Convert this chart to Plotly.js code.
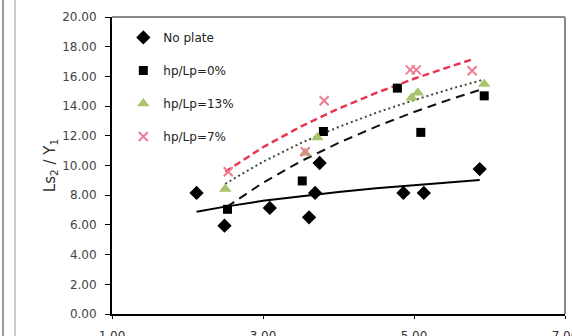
<!DOCTYPE html>
<html>
<head>
<meta charset="utf-8">
<script src="https://cdn.plot.ly/plotly-3.0.1.min.js"></script>
<style>html,body{margin:0;padding:0;background:#fff;}#chart{width:572px;height:336px;}</style>
</head>
<body>
<div id="chart"></div>
<script>
// Observed points
const noPlateX = [2.12, 2.49, 3.09, 3.61, 3.69, 3.75, 4.86, 5.13, 5.87];
const noPlateY = [8.15, 5.95, 7.14, 6.51, 8.15, 10.17, 8.15, 8.15, 9.76];

const p0X = [2.53, 3.52, 3.80, 4.78, 5.09, 5.93];
const p0Y = [7.05, 8.96, 12.29, 15.21, 12.23, 14.69];

const p13X = [2.50, 3.56, 3.72, 4.97, 5.05, 5.93];
const p13Y = [8.42, 10.85, 11.89, 14.56, 14.90, 15.48];

const p7X = [2.54, 3.56, 3.81, 4.95, 5.03, 5.77];
const p7Y = [9.58, 10.93, 14.36, 16.44, 16.44, 16.38];

// Trend lines
const trendNoPlateX = [2.12, 2.5, 3.0, 3.5, 4.0, 4.5, 5.0, 5.5, 5.87];
const trendNoPlateY = [6.89, 7.23, 7.62, 7.94, 8.22, 8.47, 8.69, 8.89, 9.03];

const trend0X = [2.52, 3.0, 3.5, 4.0, 4.5, 5.0, 5.5, 5.92];
const trend0Y = [7.21, 8.84, 10.28, 11.52, 12.62, 13.60, 14.49, 15.17];

const trend13X = [2.50, 3.0, 3.5, 4.0, 4.5, 5.0, 5.5, 5.92];
const trend13Y = [8.77, 10.25, 11.51, 12.59, 13.55, 14.40, 15.18, 15.78];

const trend7X = [2.50, 3.0, 3.5, 4.0, 4.5, 5.0, 5.5, 5.77];
const trend7Y = [9.58, 11.23, 12.62, 13.83, 14.89, 15.84, 16.70, 17.14];

const seriesNames = ["No plate", "hp/Lp=0%", "hp/Lp=13%", "hp/Lp=7%"];
const yTicks = [0, 2, 4, 6, 8, 10, 12, 14, 16, 18, 20];
const xTicks = [1, 3, 5, 7];

const FONT = "DejaVu Sans, sans-serif";

const traces = [
  {x: trendNoPlateX, y: trendNoPlateY, mode: "lines", line: {color: "#000", width: 2}, showlegend: false, hoverinfo: "skip"},
  {x: trend0X, y: trend0Y, mode: "lines", line: {color: "#111", width: 2, dash: "9px,6px"}, showlegend: false, hoverinfo: "skip"},
  {x: trend13X, y: trend13Y, mode: "lines", line: {color: "#3a4a35", width: 2, dash: "2px,3px"}, showlegend: false, hoverinfo: "skip"},
  {x: trend7X, y: trend7Y, mode: "lines", line: {color: "#e8344f", width: 2.5, dash: "7px,4px"}, showlegend: false, hoverinfo: "skip"},
  {x: noPlateX, y: noPlateY, name: seriesNames[0], mode: "markers", marker: {symbol: "diamond", size: 11, color: "#000"}, legendgroup: "a"},
  {x: p0X, y: p0Y, name: seriesNames[1], mode: "markers", marker: {symbol: "square", size: 9, color: "#000"}, legendgroup: "b"},
  {x: p13X, y: p13Y, name: seriesNames[2], mode: "markers", marker: {symbol: "triangle-up", size: 11, color: "#a8c46c"}, legendgroup: "c"},
  {x: p7X, y: p7Y, name: seriesNames[3], mode: "markers", marker: {symbol: "x-thin", size: 9, color: "#ee7c92", line: {color: "#ee7c92", width: 2}}, legendgroup: "d"}
];

const layout = {
  width: 572, height: 336,
  margin: {l: 112, r: 7, t: 17, b: 22},
  paper_bgcolor: "#fff", plot_bgcolor: "#fff",
  font: {family: FONT, size: 12, color: "#333"},
  showlegend: true,
  legend: {x: 0.025, y: 0.98, xanchor: "left", yanchor: "top", bgcolor: "rgba(0,0,0,0)",
           font: {family: FONT, size: 12, color: "#222"}, tracegroupgap: 14, traceorder: "grouped", itemwidth: 30},
  xaxis: {range: [1, 7], tickvals: xTicks, ticktext: xTicks.map(v => v.toFixed(2)),
          showgrid: false, zeroline: false, showline: true, linecolor: "#000", linewidth: 2,
          ticks: "outside", ticklen: 3, tickcolor: "#000", ticklabelstandoff: 7,
          ticklabeloverflow: "allow",
          tickfont: {family: FONT, size: 12, color: "#333"}},
  yaxis: {range: [0, 20], tickvals: yTicks, ticktext: yTicks.map(v => v.toFixed(2)),
          showgrid: false, zeroline: false, showline: true, linecolor: "#000", linewidth: 2,
          ticks: "outside", ticklen: 5, tickcolor: "#000", ticklabelstandoff: 6,
          tickfont: {family: FONT, size: 12, color: "#444"},
          title: {text: "Ls<sub>2</sub> / Y<sub>1</sub>", font: {family: FONT, size: 15, color: "#333"}, standoff: 3}},
  shapes: [
    {type: "line", xref: "paper", yref: "paper", x0: 0, x1: 1, y0: 1, y1: 1, line: {color: "#888", width: 2}},
    {type: "line", xref: "paper", yref: "paper", x0: 1, x1: 1, y0: 0, y1: 1, line: {color: "#888", width: 2}},
    {type: "line", xref: "paper", yref: "paper", x0: -0.2406, x1: -0.2406, y0: -0.08, y1: 1.06, line: {color: "#999", width: 2}},
    {type: "line", xref: "paper", yref: "paper", x0: -0.2141, x1: -0.2141, y0: -0.08, y1: 1.06, line: {color: "#ccc", width: 2}}
  ]
};

Plotly.newPlot("chart", traces, layout, {displayModeBar: false, staticPlot: true});
</script>
</body>
</html>
